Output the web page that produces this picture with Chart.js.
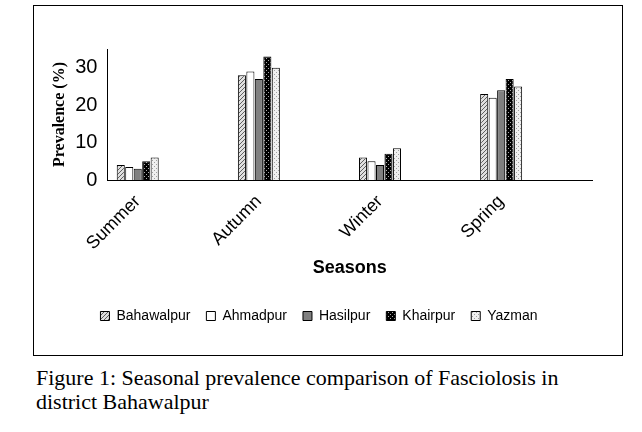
<!DOCTYPE html>
<html><head>
<script src="https://cdn.jsdelivr.net/npm/chart.js@4"></script>
<style>
body{margin:0;background:#fff;}
#box{position:absolute;left:33px;top:5px;width:588px;height:349px;border:1px solid #000;}
#cap{position:absolute;left:36px;top:366px;font-family:"Liberation Serif","DejaVu Serif",serif;font-size:22px;line-height:24px;color:#000;}
</style>
</head><body>
<div id="box"><canvas id="myChart" width="588" height="349"></canvas></div>
<div id="cap">Figure 1: Seasonal prevalence comparison of Fasciolosis in<br>district Bahawalpur</div>
<script>
// Values; empty slots sit between seasons
var seasons = ['Summer', '', 'Autumn', '', 'Winter', '', 'Spring', ''];
var bahawalpur = [4, null, 28, null, 6, null, 23, null];
var ahmadpur = [3.5, null, 29, null, 5, null, 22, null];
var hasilpur = [3, null, 27, null, 4, null, 24, null];
var khairpur = [5, null, 33, null, 7, null, 27, null];
var yazman = [6, null, 30, null, 8.5, null, 25, null];
var yTicks = [0, 5, 10, 15, 20, 25, 30, 35];

function makePattern(bg, fg, kind) {
    let c = document.createElement('canvas');
    c.width = 4; c.height = 4;
    let g = c.getContext('2d');
    g.fillStyle = bg; g.fillRect(0, 0, 4, 4);
    g.fillStyle = fg;
    if (kind === 'diag') {
        for (let i = 0; i < 4; i++) g.fillRect(i, 3 - i, 1, 1);
    } else if (kind === 'dots') {
        g.fillRect(0, 0, 1, 1); g.fillRect(2, 2, 1, 1);
    }
    return g.createPattern(c, 'repeat');
}

function ds(label, data, fill) {
    return {label: label, data: data, backgroundColor: fill, borderColor: '#000', borderWidth: 1};
}

let ctx = document.getElementById('myChart').getContext('2d');
let chart = new Chart(ctx, {
    type: 'bar',
    data: {
        labels: seasons,
        datasets: [
            ds('Bahawalpur', bahawalpur, makePattern('#e0e0e0', '#606060', 'diag')),
            ds('Ahmadpur', ahmadpur, '#ffffff'),
            ds('Hasilpur', hasilpur, '#808080'),
            ds('Khairpur', khairpur, makePattern('#000000', '#b0b0b0', 'dots')),
            ds('Yazman', yazman, makePattern('#f0f0f0', '#a0a0a0', 'dots'))
        ]
    },
    options: {
        animation: false,
        responsive: false,
        layout: {padding: {left: 12, right: 30, top: 43, bottom: 22}},
        datasets: {bar: {categoryPercentage: 0.7, barPercentage: 0.95, skipNull: true}},
        plugins: {
            tooltip: {enabled: false},
            legend: {
                position: 'bottom',
                labels: {boxWidth: 9, boxHeight: 9, padding: 16, color: '#000',
                    font: {family: 'Liberation Sans, Arial', size: 14}}
            }
        },
        scales: {
            x: {
                grid: {display: false, drawTicks: true},
                border: {color: '#000'},
                ticks: {color: '#000', maxRotation: 45, minRotation: 45, autoSkip: false,
                    font: {family: 'Liberation Sans, Arial', size: 18}},
                title: {display: true, text: 'Seasons', color: '#000', padding: {top: 0, bottom: 14},
                    font: {family: 'Liberation Sans, Arial', size: 18, weight: 'bold'}}
            },
            y: {
                min: 0, max: 35,
                afterBuildTicks: function (axis) { axis.ticks = yTicks.map(v => ({value: v})); },
                grid: {display: false},
                border: {color: '#000'},
                ticks: {color: '#000', padding: 2, font: {family: 'Liberation Sans, Arial', size: 20}},
                title: {display: true, text: 'Prevalence (%)', color: '#000',
                    font: {family: 'Liberation Serif', size: 16, weight: 'bold'}}
            }
        }
    }
});
</script>
</body></html>
